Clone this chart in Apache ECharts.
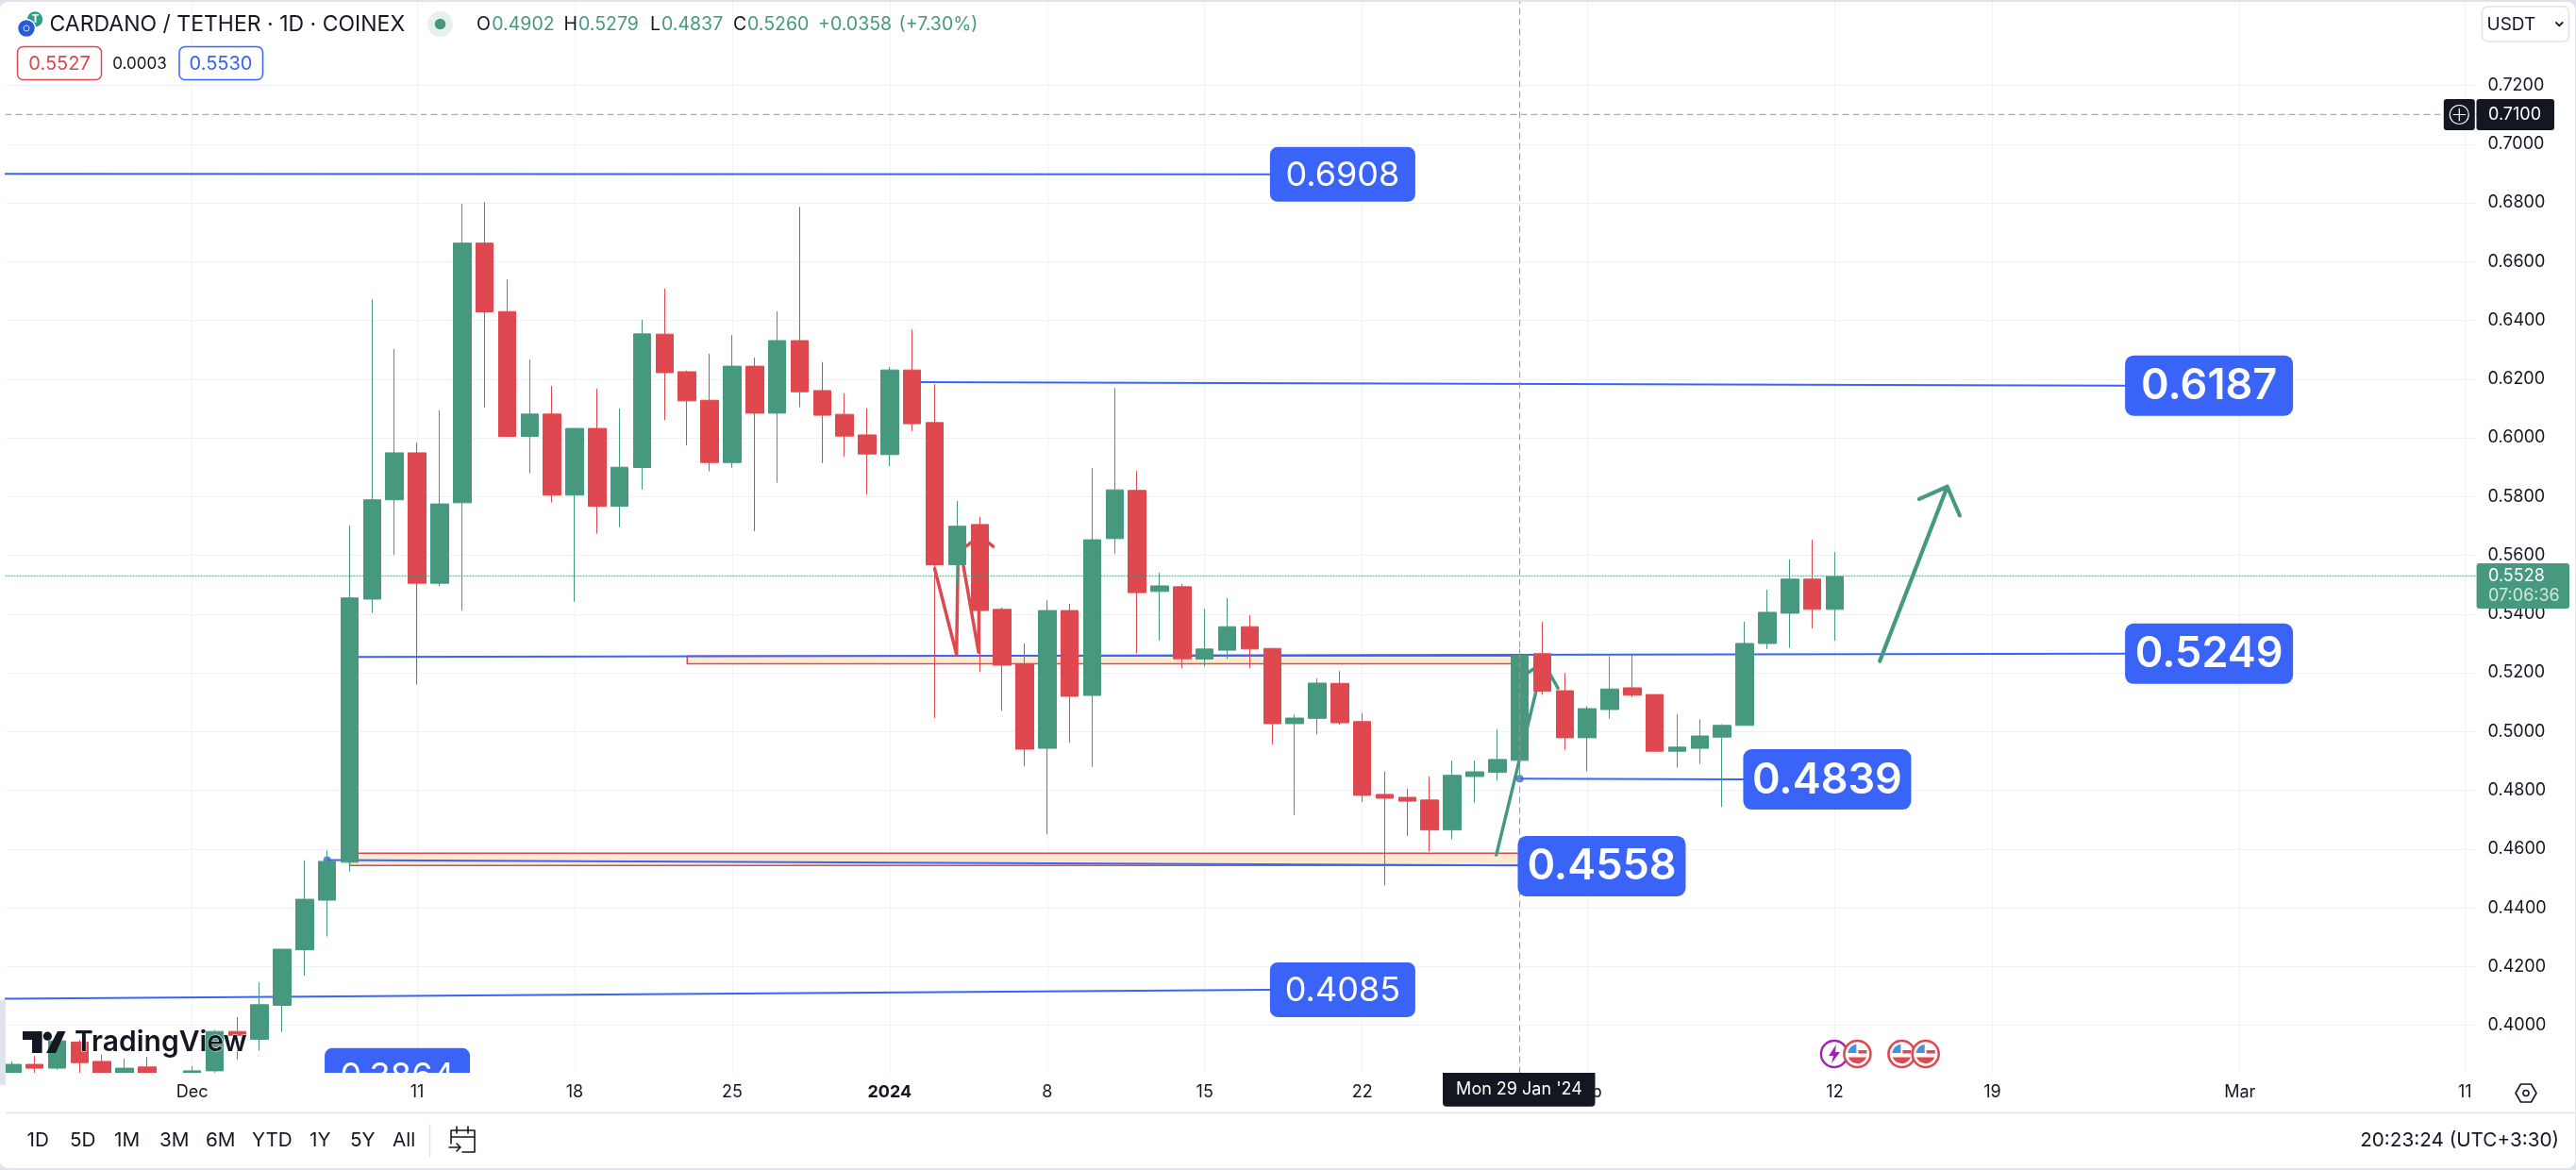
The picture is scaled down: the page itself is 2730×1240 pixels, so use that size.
<!DOCTYPE html>
<html>
<head>
<meta charset="utf-8">
<title>CARDANO / TETHER</title>
<script src="https://cdn.jsdelivr.net/npm/echarts@6/dist/echarts.min.js"></script>
<style>
  html, body { margin: 0; padding: 0; background: #e0e3eb; }
  #chart { width: 2730px; height: 1240px; }
</style>
</head>
<body>
<div id="chart"></div>
<script>
// daily candles, index 0 = 23 Nov 2023
var opens = [.3810,.3867,.3854,.3943,.3877,.3810,.3858,.3785,.3810,.3845,.3979,.3952,.4068,.4257,.4426,.4555,.5451,.5789,.5949,.5505,.5779,.6663,.6430,.6005,.6081,.5805,.6032,.5767,.5899,.6353,.6225,.6128,.5916,.6244,.6084,.6331,.6161,.6080,.6010,.5943,.6231,.6052,.5568,.5705,.5416,.5231,.4943,.5412,.5123,.5657,.5821,.5477,.5493,.5247,.5277,.5357,.5283,.5027,.5045,.5164,.5034,.4786,.4776,.4767,.4665,.4847,.4861,.4902,.5265,.5139,.4979,.5075,.5149,.5126,.4933,.4943,.4981,.5021,.5300,.5403,.5519,.5416];
var closes = [.3867,.3854,.3947,.3873,.3810,.3854,.3800,.3825,.3845,.3979,.3966,.4070,.4259,.4429,.4558,.5455,.5789,.5949,.5505,.5775,.6663,.6429,.6005,.6081,.5805,.6032,.5767,.5900,.6354,.6222,.6126,.5916,.6244,.6084,.6331,.6157,.6077,.6006,.5945,.6231,.6048,.5568,.5699,.5412,.5226,.4940,.5412,.5120,.5653,.5823,.5473,.5496,.5248,.5281,.5357,.5281,.5027,.5046,.5165,.5030,.4783,.4773,.4763,.4665,.4851,.4863,.4905,.5260,.5138,.4979,.5078,.5145,.5124,.4933,.4947,.4985,.5021,.5300,.5406,.5519,.5416,.5528];
var lows = [.3780,.3825,.3848,.3825,.3780,.3780,.3780,.3760,.3780,.3825,.3883,.3914,.3977,.4169,.4302,.4524,.5404,.5602,.5160,.5495,.5413,.6104,.6005,.5879,.5780,.5442,.5674,.5696,.5824,.6060,.5974,.5886,.5898,.5682,.5847,.6104,.5914,.5936,.5807,.5903,.6023,.5046,.5498,.5203,.5071,.4882,.4650,.4962,.4880,.5605,.5266,.5310,.5216,.5221,.5247,.5216,.4956,.4716,.4990,.5023,.4760,.4476,.4645,.4591,.4633,.4758,.4834,.4837,.5125,.4938,.4865,.5044,.5117,.4933,.4877,.4890,.4743,.5021,.5281,.5285,.5351,.5309];
var highs = [.3877,.3896,.3956,.3950,.3901,.3886,.3892,.3832,.3861,.3984,.4028,.4146,.4259,.4562,.4595,.5702,.6471,.6302,.5984,.6094,.6797,.6803,.6539,.6266,.6177,.6032,.6167,.6100,.6402,.6508,.6229,.6286,.6350,.6273,.6430,.6786,.6258,.6151,.6100,.6241,.6369,.6183,.5785,.5731,.5422,.5300,.5447,.5435,.5897,.6170,.5888,.5541,.5502,.5418,.5454,.5397,.5283,.5059,.5181,.5206,.5063,.4865,.4805,.4847,.4901,.4901,.5008,.5279,.5374,.5199,.5087,.5257,.5262,.5126,.5059,.5042,.5025,.5374,.5483,.5586,.5653,.5611];

// axes
var priceTicks = [.40,.42,.44,.46,.48,.50,.52,.54,.56,.58,.60,.62,.64,.66,.68,.70,.72];
var tickDays = [8,18,25,32,39,46,53,60,70,81,88,99,109];
var tickLabels = ['Dec','11','18','25','{b|2024}','8','15','22','Feb','12','19','Mar','11'];
var priceMin = 0.38382, priceMax = 0.74843, dayMin = -0.286, dayMax = 109.52;

// drawn levels: [start day, end day], [start price, end price]
var levelDays = [[-0.3,55.9],[40,93.9],[15,93.9],[67,76.93],[14,67],[-0.3,55.9]];
var levelPrices = [[.6899,.6897],[.6190,.6178],[.5254,.5265],[.4840,.4837],[.4563,.4544],[.4090,.4121]];
var anchorDays = [14,67];
var anchorPrices = [.4563,.4840];

// orange zones
var zoneDays = [[30,67],[15,67]];
var zonePrices = [[.5257,.5231],[.4586,.4544]];

// note boxes
var noteTexts = ['0.6908','0.6187','0.5249','0.4839','0.4558','0.4085','0.3864'];
var noteDays = [55.9,93.9,93.9,76.93,66.91,55.9,13.89];
var notePrices = [.6897,.6178,.5265,.4837,.4542,.4121,.3829];
var noteBig = [false,true,true,true,true,false,false];

// hand drawn arrows
var redArrowDays = [41,41.97,42.05,42.95,43,42.42,43,43.6];
var redArrowPrices = [.5555,.5263,.5663,.5270,.5666,.5632,.5666,.5630];
var greenArrowDays = [65.96,68.04,67.4,68.04,68.7];
var greenArrowPrices = [.4580,.5237,.5202,.5237,.5148];
var riseArrowDays = [83,86,84.75,86,86.55];
var riseArrowPrices = [.5240,.5834,.5792,.5834,.5736];

var lastPrice = 0.5530;
var crossDay = 67, crossPrice = 0.7101;

var GREEN = '#46997f', RED = '#e0484f', BLUE = '#3a64f8', INK = '#131722', GRID = '#f1f2f5', FONT = 'Inter';

function zipLine(xs, ys) {
  return xs.map(function (x, i) { return [x, ys[i]]; });
}

function lineSeries(data, color, width, type, z) {
  return {
    type: 'line', data: data, z: z, silent: true, animation: false, showSymbol: false, symbol: 'none',
    lineStyle: { color: color, width: width, type: type || 'solid', cap: 'round', join: 'round' }
  };
}

var series = [];

series.push({
  type: 'custom', z: 1, clip: true, silent: true, animation: false,
  encode: { x: [0, 1], y: [2, 3] },
  data: zoneDays.map(function (d, i) { return [d[0], d[1], zonePrices[i][0], zonePrices[i][1]]; }),
  renderItem: function (params, api) {
    var a = api.coord([api.value(0), api.value(2)]);
    var b = api.coord([api.value(1), api.value(3)]);
    return {
      type: 'rect',
      shape: { x: a[0], y: a[1], width: b[0] - a[0], height: b[1] - a[1] },
      style: { fill: '#fbead2', stroke: RED, lineWidth: 1.5 }
    };
  }
});

levelDays.forEach(function (d, i) {
  series.push(lineSeries(zipLine(d, levelPrices[i]), BLUE, 2, 'solid', 2));
});
series.push({
  type: 'scatter', z: 2, silent: true, animation: false, symbolSize: 8,
  itemStyle: { color: BLUE }, data: zipLine(anchorDays, anchorPrices)
});

series.push(lineSeries(zipLine(redArrowDays, redArrowPrices), RED, 3.5, 'solid', 2));
series.push(lineSeries(zipLine(greenArrowDays, greenArrowPrices), GREEN, 3.5, 'solid', 2));
series.push(lineSeries(zipLine(riseArrowDays, riseArrowPrices), GREEN, 4.2, 'solid', 2));

series.push({
  type: 'candlestick', z: 3, silent: true, animation: false, barWidth: 19, clip: true,
  encode: { x: 0, y: [1, 2, 3, 4] },
  data: opens.map(function (o, i) { return [i, o, closes[i], lows[i], highs[i]]; }),
  itemStyle: { color: GREEN, color0: RED, borderColor: GREEN, borderColor0: RED, borderWidth: 1 }
});

series.push(lineSeries([[dayMin, lastPrice], [dayMax, lastPrice]], GREEN, 1, [1, 2], 4));
series.push(lineSeries([[dayMin, crossPrice], [dayMax, crossPrice]], '#9598a1', 1, [6, 5], 5));
series.push(lineSeries([[crossDay, priceMin], [crossDay, priceMax]], '#9598a1', 1, [6, 5], 5));

series.push({
  type: 'custom', z: 6, clip: true, silent: true, animation: false,
  encode: { x: 0, y: 1 },
  data: zipLine(noteDays, notePrices),
  renderItem: function (params, api) {
    var p = api.coord([api.value(0), api.value(1)]);
    var big = noteBig[params.dataIndex];
    var w = big ? 178 : 154, h = big ? 64 : 58;
    return {
      type: 'group',
      children: [
        { type: 'rect', shape: { x: p[0], y: p[1] - h / 2, width: w, height: h, r: big ? 9 : 8 }, style: { fill: BLUE } },
        { type: 'text', style: {
          x: p[0] + w / 2, y: p[1] + 1, text: noteTexts[params.dataIndex], fill: '#fff',
          font: (big ? '600 45px ' : '400 36px ') + FONT, align: 'center', verticalAlign: 'middle'
        } }
      ]
    };
  }
});

// chart furniture
var Z = 100;
var pathCount = 0;
function shapeFromPath(d) {
  var name = 'svgPath' + (pathCount++);
  echarts.graphic.registerShape(name, echarts.graphic.extendPath(d, {}));
  return name;
}
function txt(text, x, y, size, color, extra) {
  var style = { text: text, x: x, y: y, fill: color || INK, font: '400 ' + size + 'px ' + FONT, align: 'left', verticalAlign: 'middle' };
  for (var k in (extra || {})) style[k] = extra[k];
  return { type: 'text', z: Z + 2, silent: true, style: style };
}
function box(x, y, w, h, r, fill, stroke, z) {
  return { type: 'rect', z: z === undefined ? Z : z, silent: true, shape: { x: x, y: y, width: w, height: h, r: r },
    style: { fill: fill || 'none', stroke: stroke || 'none', lineWidth: stroke ? 1.5 : 0 } };
}
function pathEl(d, stroke, width, fill, z) {
  return { type: shapeFromPath(d), z: z || Z + 1, silent: true,
    style: { stroke: stroke || 'none', lineWidth: width || 0, fill: fill || 'none', lineCap: 'round', lineJoin: 'round' } };
}
function circle(cx, cy, r, fill, stroke, width, z) {
  return { type: 'circle', z: z || Z + 1, silent: true, shape: { cx: cx, cy: cy, r: r },
    style: { fill: fill || 'none', stroke: stroke || 'none', lineWidth: width || 0 } };
}
function flagIcon(cx, cy, z) {
  function p(d, fill) {
    return { type: shapeFromPath(d), z: z, silent: true, x: cx, y: cy, style: { fill: fill } };
  }
  return [
    circle(cx, cy, 14, '#fff', RED, 2.6, z),
    p('M-10 -1 A10.3 10.3 0 0 1 -1 -10.3 V-1 Z', '#4a90e2'),
    p('M1 -4 H10 V-0.5 H1 Z', RED),
    p('M-9.6 3.5 H9.6 A10.3 10.3 0 0 1 -9.6 3.5 Z', RED)
  ];
}

var graphic = [
  box(0, 2, 2729, 1236, 8, '#ffffff', null, -10),
  // candlesticks are not cut at the plot edge, the strips below hide what hangs over
  box(0, 1137, 2625, 42, 0, '#ffffff', null, 50),
  box(0, 1060, 6, 90, 0, '#e0e3eb', null, 50),
  // header
  circle(37, 20.5, 9, '#2f9c86', '#fff', 1.5),
  circle(28, 30, 9.5, '#2a5ada', '#fff', 1.5, Z + 2),
  circle(28, 30, 3, 'none', '#cfd9f7', 1, Z + 3),
  txt('T', 33.5, 20, 12, '#fff', { font: '700 12px ' + FONT }),
  txt('CARDANO / TETHER · 1D · COINEX', 52.5, 26, 23),
  circle(466.5, 25.5, 13.5, '#e4f1ed'),
  circle(466.5, 25.5, 5.8, GREEN, null, 0, Z + 2),
  txt('O', 505, 26, 19.5), txt('0.4902', 521.3, 26, 19.5, GREEN),
  txt('H', 597.5, 26, 19.5), txt('0.5279', 613, 26, 19.5, GREEN),
  txt('L', 689, 26, 19.5), txt('0.4837', 701, 26, 19.5, GREEN),
  txt('C', 777, 26, 19.5), txt('0.5260', 792, 26, 19.5, GREEN),
  txt('+0.0358', 867, 26, 19.5, GREEN), txt('(+7.30%)', 952.6, 26, 19.5, GREEN),
  box(18.5, 49.5, 89, 35, 6, '#fff', RED),
  txt('0.5527', 63, 67.5, 20, RED, { align: 'center' }),
  txt('0.0003', 148, 67.5, 17, INK, { align: 'center' }),
  box(190, 49.5, 88.5, 35, 6, '#fff', BLUE),
  txt('0.5530', 234, 67.5, 20, BLUE, { align: 'center' }),
  // currency button
  box(2630.5, 7, 92, 37, 6, '#fff', '#e0e3eb'),
  txt('USDT', 2635.5, 26, 19),
  pathEl('M2709 24 L2712.3 27.3 L2715.6 24', INK, 1.8),
  // crosshair price
  box(2589.8, 105, 33, 33, 3, INK),
  box(2624.5, 105, 82.5, 33, 3, INK),
  circle(2606.3, 121.5, 10, 'none', '#fff', 1.2),
  pathEl('M2600 121.5 H2612.6 M2606.3 115.2 V127.8', '#fff', 1.2),
  txt('0.7100', 2637, 122, 18, '#fff'),
  // last price tag
  box(2624.6, 597, 98.4, 48, 3, GREEN),
  txt('0.5528', 2637, 611, 18, '#fff'),
  txt('07:06:36', 2637, 632, 18, '#cfe6df'),
  // crosshair date
  box(1529, 1137, 161.5, 35.7, [0, 0, 4, 4], INK),
  txt("Mon 29 Jan '24", 1610, 1155, 18, '#fff', { align: 'center' }),
  // settings
  pathEl('M2666 1158.5 L2671.5 1149 H2682.5 L2688 1158.5 L2682.5 1168 H2671.5 Z', INK, 1.6),
  circle(2677, 1158.5, 3, 'none', INK, 1.6),
  // bottom toolbar
  pathEl('M6 1179.5 H2729', '#e0e3eb', 1.5, null, Z),
  pathEl('M455.5 1192 V1226', '#e0e3eb', 1.5, null, Z),
  pathEl('M478 1198 H503 V1221 H490 M478 1198 V1212 M478 1205 H503 M484 1194 V1201 M496 1194 V1201 M476 1216 H488 M484 1212 L488 1216 L484 1220', INK, 1.6),
  txt('1D', 28.5, 1209, 20.7), txt('5D', 74, 1209, 20.7), txt('1M', 121, 1209, 20.7), txt('3M', 169, 1209, 20.7),
  txt('6M', 218, 1209, 20.7), txt('YTD', 267, 1209, 20.7), txt('1Y', 328, 1209, 20.7), txt('5Y', 371, 1209, 20.7), txt('All', 416, 1209, 20.7),
  txt('20:23:24 (UTC+3:30)', 2712, 1209, 20.7, INK, { align: 'right' }),
  // logo
  pathEl('M24 1093 H44.6 V1116 H34 V1102 H24 Z', null, 0, INK),
  circle(50.4, 1098.2, 4.6, INK),
  pathEl('M61 1093 H69.5 L59 1116 H49 Z', null, 0, INK),
  txt('TradingView', 79, 1105, 30, INK, { font: '600 30px ' + FONT, stroke: '#fff', lineWidth: 1 }),
  // events
  circle(1943.9, 1117, 14, '#fff', '#9c27b0', 2.4, Z + 1),
  pathEl('M1946 1107 L1938 1119 H1943 L1941 1127 L1950 1115 H1945 Z', null, 0, '#9c27b0', Z + 1)
];
graphic = graphic.concat(flagIcon(1968.4, 1117, Z + 2), flagIcon(2015.4, 1117, Z + 2), flagIcon(2040.7, 1117, Z + 3));

var option = {
  animation: false,
  textStyle: { fontFamily: FONT },
  grid: { left: 6, top: 2, width: 2618.6, height: 1135 },
  xAxis: [{
    // grid lines, under the candles
    type: 'value', min: dayMin, max: dayMax,
    axisLine: { show: false }, axisTick: { show: false, customValues: tickDays }, axisLabel: { show: false, customValues: tickDays },
    splitLine: { show: true, lineStyle: { color: GRID, width: 1.2 } }
  }, {
    // date labels, above the bottom strip
    type: 'value', min: dayMin, max: dayMax, position: 'bottom', z: 60,
    axisLine: { show: false }, axisTick: { show: false }, splitLine: { show: false },
    axisLabel: {
      customValues: tickDays, margin: 12, fontSize: 18, color: INK, fontFamily: FONT, hideOverlap: false,
      formatter: function (v) { return tickLabels[tickDays.indexOf(v)]; },
      rich: { b: { fontSize: 18, fontWeight: 700, color: INK, fontFamily: FONT } }
    }
  }],
  yAxis: {
    type: 'value', position: 'right', min: priceMin, max: priceMax, scale: true,
    axisLine: { show: false }, axisTick: { show: false, customValues: priceTicks },
    splitLine: { show: true, lineStyle: { color: GRID, width: 1.2 } },
    axisLabel: {
      customValues: priceTicks, margin: 12, fontSize: 18, color: INK, fontFamily: FONT,
      formatter: function (v) { return v.toFixed(4); }
    }
  },
  series: series,
  graphic: graphic
};

var chart = echarts.init(document.getElementById('chart'));
chart.setOption(option);
</script>
</body>
</html>
